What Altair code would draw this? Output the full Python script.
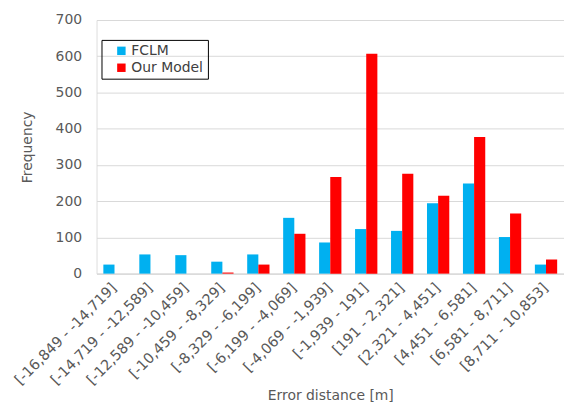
import altair as alt
import pandas as pd

categories = ["[-16,849 - -14,719]", "[-14,719 - -12,589]", "[-12,589 - -10,459]",
              "[-10,459 - -8,329]", "[-8,329 - -6,199]", "[-6,199 - -4,069]",
              "[-4,069 - -1,939]", "[-1,939 - 191]", "[191 - 2,321]",
              "[2,321 - 4,451]", "[4,451 - 6,581]", "[6,581 - 8,711]",
              "[8,711 - 10,853]"]
fclm = [25, 53, 51, 33, 53, 154, 86, 123, 118, 194, 249, 101, 25]
our_model = [0, 0, 0, 3, 25, 110, 267, 607, 276, 215, 377, 166, 39]
series = ["FCLM", "Our Model"]
colors = ["#00B0F0", "#FF0000"]

rows = []
for c, a, b in zip(categories, fclm, our_model):
    rows.append({"cat": c, "series": "FCLM", "value": a})
    rows.append({"cat": c, "series": "Our Model", "value": b})
df = pd.DataFrame(rows)

FONT = "DejaVu Sans"
GRAY = "#595959"

chart = alt.Chart(df).mark_bar().encode(
    x=alt.X("cat:N", sort=categories, title="Error distance [m]",
            scale=alt.Scale(paddingInner=0.38, paddingOuter=0.19),
            axis=alt.Axis(labelAngle=-45, labelAlign="right", labelBaseline="middle",
                          ticks=False, domainColor="#D9D9D9", labelColor=GRAY,
                          labelFontSize=14.5, labelFont=FONT, titleFont=FONT,
                          titleFontSize=14, titleColor=GRAY, titleFontWeight="normal",
                          labelPadding=12, titlePadding=2, labelOverlap=False)),
    xOffset=alt.XOffset("series:N", sort=series),
    y=alt.Y("value:Q", title="Frequency",
            scale=alt.Scale(domain=[0, 700]),
            axis=alt.Axis(values=[0, 100, 200, 300, 400, 500, 600, 700],
                          domain=False, ticks=False, gridColor="#D9D9D9",
                          labelColor=GRAY, labelFontSize=14, labelFont=FONT,
                          labelPadding=15, titleFont=FONT, titleFontSize=14,
                          titleColor=GRAY, titleFontWeight="normal", titlePadding=21)),
    color=alt.Color("series:N", sort=series,
                    scale=alt.Scale(domain=series, range=colors),
                    legend=alt.Legend(title=None, orient="none", legendX=5, legendY=20,
                                      strokeColor="black", padding=4,
                                      symbolType="square", symbolSize=72,
                                      symbolStrokeWidth=0, symbolOffset=9,
                                      labelOffset=3,
                                      labelExpr="datum.label + '    '",
                                      labelFont=FONT, labelFontSize=14,
                                      labelColor="#404040", rowPadding=3)),
).properties(
    width=470, height=255,
    autosize=alt.AutoSizeParams(type="none"),
    padding={"left": 89, "top": 11, "right": 0, "bottom": 130},
).configure_view(stroke=None).configure(background="white")

chart.save("out.html", embed_options={"renderer": "svg", "actions": False})
